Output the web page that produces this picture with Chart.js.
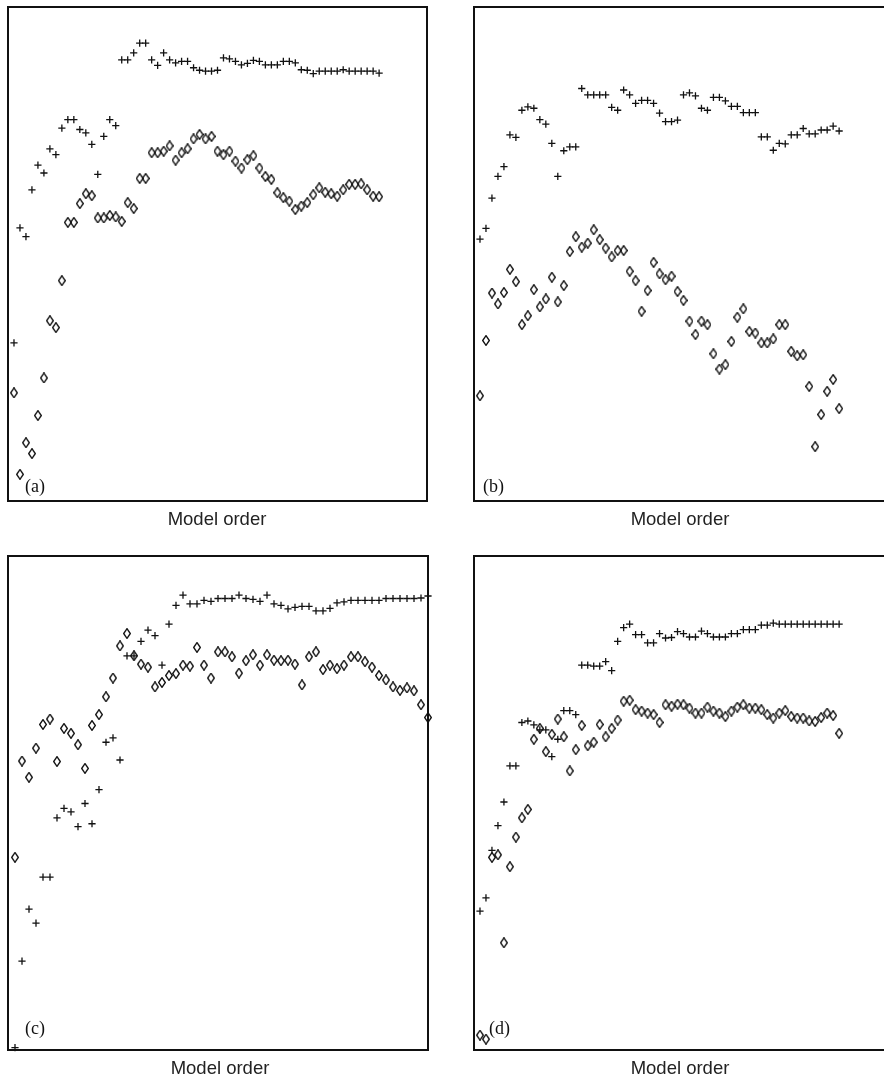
<!DOCTYPE html>
<html>
<head>
<meta charset="utf-8">
<title>Model order</title>
<script src="https://cdn.jsdelivr.net/npm/chart.js@4.4.1/dist/chart.umd.min.js"></script>
<style>
  html, body { margin: 0; padding: 0; background: #fff; }
  body { width: 884px; height: 1081px; position: relative; overflow: hidden; }
  canvas { position: absolute; }
  .xlabel {
    position: absolute; transform: translateX(-50%); white-space: nowrap;
    font-family: "Liberation Sans", Arial, sans-serif; font-size: 18.5px; line-height: 1; color: #222;
  }
  .tag {
    position: absolute; white-space: nowrap;
    font-family: "Liberation Serif", "Times New Roman", serif; font-size: 18px; line-height: 1; color: #111;
  }
</style>
</head>
<body>
<canvas id="chartA"></canvas>
<canvas id="chartB"></canvas>
<canvas id="chartC"></canvas>
<canvas id="chartD"></canvas>

<div class="xlabel" style="left:217px; top:510px;">Model order</div>
<div class="xlabel" style="left:680px; top:510px;">Model order</div>
<div class="xlabel" style="left:220px; top:1059px;">Model order</div>
<div class="xlabel" style="left:680px; top:1059px;">Model order</div>

<div class="tag" style="left:25px; top:477px;">(a)</div>
<div class="tag" style="left:483px; top:477px;">(b)</div>
<div class="tag" style="left:25px; top:1019px;">(c)</div>
<div class="tag" style="left:489px; top:1019px;">(d)</div>

<script>
// Scores per model order (1, 2, 3, ...), two series per panel
const plusA = [32.0, 55.3, 53.5, 63.0, 68.0, 66.4, 71.3, 70.1, 75.5, 77.2,
  77.2, 75.2, 74.5, 72.2, 66.1, 73.8, 77.2, 76.0, 89.3, 89.3,
  90.7, 92.7, 92.7, 89.3, 88.2, 90.7, 89.3, 88.7, 89.0, 89.0,
  87.7, 87.2, 87.0, 87.0, 87.2, 89.7, 89.5, 89.0, 88.3, 88.6,
  89.2, 89.0, 88.3, 88.3, 88.3, 89.0, 89.0, 88.7, 87.3, 87.2,
  86.5, 87.0, 87.0, 87.0, 87.0, 87.3, 87.0, 87.0, 87.0, 87.0,
  87.0, 86.6];
const diamondA = [21.9, 5.4, 11.8, 9.6, 17.3, 24.9, 36.5, 35.1, 44.6, 56.4,
  56.4, 60.2, 62.2, 61.8, 57.3, 57.3, 57.8, 57.5, 56.6, 60.4,
  59.2, 65.3, 65.3, 70.5, 70.5, 70.8, 71.9, 69.0, 70.5, 71.3,
  73.3, 74.2, 73.3, 73.8, 70.8, 70.1, 70.8, 68.8, 67.4, 69.1,
  69.9, 67.4, 65.7, 65.1, 62.4, 61.4, 60.7, 59.0, 59.7, 60.4,
  62.0, 63.4, 62.5, 62.2, 61.7, 63.0, 64.1, 64.1, 64.2, 63.0,
  61.7, 61.6];

const plusB = [53.0, 55.2, 61.3, 65.7, 67.7, 74.1, 73.6, 79.1, 79.8, 79.5,
  77.2, 76.3, 72.4, 65.7, 70.9, 71.7, 71.7, 83.5, 82.2, 82.2,
  82.2, 82.2, 79.7, 79.1, 83.2, 82.2, 80.5, 81.1, 81.1, 80.5,
  78.5, 76.8, 76.8, 77.1, 82.2, 82.6, 82.0, 79.5, 79.1, 81.7,
  81.7, 81.0, 79.9, 79.9, 78.6, 78.6, 78.6, 73.7, 73.7, 71.0,
  72.4, 72.3, 74.1, 74.1, 75.4, 74.3, 74.3, 75.1, 75.1, 75.9,
  74.9];
const diamondB = [21.3, 32.5, 42.1, 39.9, 42.2, 46.9, 44.4, 35.7, 37.5, 42.8,
  39.3, 40.9, 45.3, 40.3, 43.6, 50.5, 53.5, 51.4, 52.2, 54.9,
  52.9, 51.2, 49.4, 50.7, 50.7, 46.5, 44.6, 38.4, 42.6, 48.3,
  46.0, 44.8, 45.5, 42.4, 40.6, 36.4, 33.7, 36.4, 35.7, 29.8,
  26.7, 27.6, 32.3, 37.2, 38.9, 34.3, 34.0, 32.0, 32.0, 32.8,
  35.7, 35.7, 30.3, 29.4, 29.6, 23.2, 11.0, 17.5, 22.2, 24.6,
  18.7];

const plusC = [0.5, 18.0, 28.5, 25.7, 35.0, 35.0, 47.0, 48.9, 48.2, 45.2,
  49.9, 45.8, 52.7, 62.3, 63.2, 58.7, 79.8, 79.8, 82.7, 85.0,
  83.9, 77.9, 86.2, 90.0, 92.1, 90.3, 90.3, 91.0, 90.8, 91.4,
  91.4, 91.4, 92.1, 91.4, 91.2, 90.8, 92.1, 90.3, 90.0, 89.3,
  89.6, 89.8, 89.8, 88.9, 88.9, 89.4, 90.5, 90.7, 91.0, 91.0,
  91.0, 91.0, 91.0, 91.4, 91.4, 91.4, 91.4, 91.4, 91.5, 91.9];
const diamondC = [39.0, 58.5, 55.2, 61.1, 65.9, 67.0, 58.4, 65.1, 64.1, 61.8,
  57.0, 65.7, 67.9, 71.5, 75.3, 81.8, 84.3, 79.8, 78.1, 77.5,
  73.5, 74.4, 75.8, 76.2, 77.9, 77.7, 81.5, 77.9, 75.3, 80.6,
  80.6, 79.6, 76.3, 78.8, 80.0, 77.9, 80.0, 78.9, 78.8, 78.9,
  78.1, 73.9, 79.6, 80.6, 77.0, 77.9, 77.2, 77.9, 79.6, 79.6,
  78.6, 77.5, 75.8, 74.9, 73.5, 72.8, 73.3, 72.7, 69.9, 67.3];

const plusD = [28.1, 30.8, 40.4, 45.4, 50.2, 57.5, 57.5, 66.3, 66.6, 65.8,
  64.8, 64.8, 59.4, 62.9, 68.7, 68.7, 67.9, 77.9, 77.9, 77.7,
  77.7, 78.6, 76.8, 82.7, 85.5, 86.2, 84.1, 84.1, 82.4, 82.4,
  84.3, 83.4, 83.5, 84.7, 84.3, 83.6, 83.6, 84.8, 84.3, 83.6,
  83.6, 83.6, 84.3, 84.3, 85.1, 85.1, 85.1, 86.0, 86.0, 86.4,
  86.2, 86.2, 86.2, 86.2, 86.2, 86.2, 86.2, 86.2, 86.2, 86.2,
  86.2];
const diamondD = [3.0, 2.2, 39.0, 39.5, 21.7, 37.1, 43.1, 47.0, 48.7, 62.9,
  65.1, 60.4, 63.9, 67.0, 63.4, 56.5, 60.8, 65.7, 61.6, 62.3,
  65.9, 63.4, 65.1, 66.8, 70.6, 70.8, 68.9, 68.6, 68.2, 67.9,
  66.3, 69.9, 69.6, 70.0, 69.9, 69.2, 68.2, 68.2, 69.4, 68.6,
  68.2, 67.5, 68.6, 69.4, 69.9, 69.2, 69.2, 68.9, 67.9, 67.2,
  68.2, 68.7, 67.5, 67.2, 67.2, 66.6, 66.5, 67.3, 68.2, 67.7,
  64.1];

// Upper limit of the model-order axis in each panel
const xMaxA = 70;
const xMaxB = 70;
const xMaxC = 60;
const xMaxD = 70;

const PAD = 8;

// Tall hollow diamond used as point marker
function makeDiamond(w, h, lw, color) {
  const c = document.createElement("canvas");
  c.width = w;
  c.height = h;
  const g = c.getContext("2d");
  g.strokeStyle = color;
  g.lineWidth = lw;
  g.beginPath();
  g.moveTo(w / 2, lw / 2);
  g.lineTo(w - lw / 2, h / 2);
  g.lineTo(w / 2, h - lw / 2);
  g.lineTo(lw / 2, h / 2);
  g.closePath();
  g.stroke();
  return c;
}
const diamondImg = makeDiamond(8, 11, 1.35, "#111");

// Box around the plotting area
const framePlugin = {
  id: "frame",
  beforeDatasetsDraw(chart) {
    const { ctx, chartArea: a } = chart;
    ctx.save();
    ctx.strokeStyle = "#111";
    ctx.lineWidth = 2;
    ctx.strokeRect(a.left, a.top, a.right - a.left, a.bottom - a.top);
    ctx.restore();
  }
};

function toPoints(values) {
  return values.map((v, i) => ({ x: i + 1, y: v }));
}

// One panel: frame at (left, top) with the given size
function makePanel(id, left, top, width, height, plus, diamonds, xMax) {
  const canvas = document.getElementById(id);
  canvas.width = width + 2 * PAD;
  canvas.height = height + 2 * PAD;
  canvas.style.left = (left - PAD) + "px";
  canvas.style.top = (top - PAD) + "px";

  return new Chart(canvas, {
    type: "scatter",
    data: {
      datasets: [
        {
          data: toPoints(plus),
          pointStyle: "cross",
          pointRadius: 3.6,
          pointBorderColor: "#111",
          pointBorderWidth: 1.3,
          clip: false
        },
        {
          data: toPoints(diamonds),
          pointStyle: diamondImg,
          pointRadius: 5,
          clip: false
        }
      ]
    },
    options: {
      responsive: false,
      animation: false,
      events: [],
      layout: { padding: PAD },
      plugins: {
        legend: { display: false },
        tooltip: { enabled: false }
      },
      scales: {
        x: { type: "linear", min: 0, max: xMax, display: false },
        y: { type: "linear", min: 0, max: 100, display: false }
      }
    },
    plugins: [framePlugin]
  });
}

makePanel("chartA", 8, 7, 419, 494, plusA, diamondA, xMaxA);
makePanel("chartB", 474, 7, 419, 494, plusB, diamondB, xMaxB);
makePanel("chartC", 8, 556, 420, 494, plusC, diamondC, xMaxC);
makePanel("chartD", 474, 556, 419, 494, plusD, diamondD, xMaxD);
</script>
</body>
</html>
